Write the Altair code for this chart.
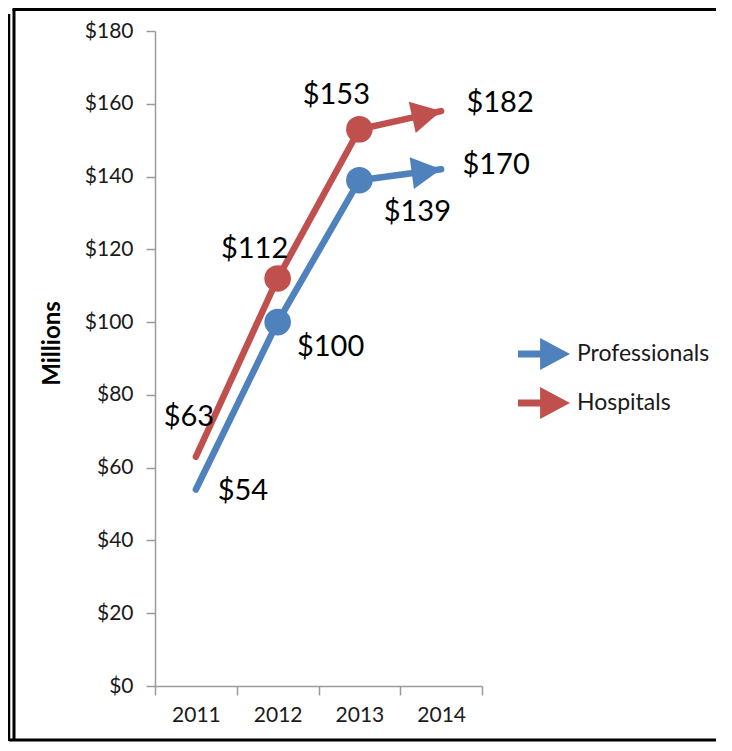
import math
import altair as alt
import pandas as pd

# ---- data ----
years = ["2011", "2012", "2013", "2014"]
series_names = ["Professionals", "Hospitals"]
professionals_drawn = [54, 100, 139, 142]   # plotted positions
hospitals_drawn = [63, 112, 153, 158]
professionals_labels = ["$54", "$100", "$139", "$170"]  # printed data labels
hospitals_labels = ["$63", "$112", "$153", "$182"]
y_ticks = [0, 20, 40, 60, 80, 100, 120, 140, 160, 180]

# ---- styles ----
BLUE = "#4F81BD"
RED = "#C0504D"
SERIES_COLORS = {"Professionals": BLUE, "Hospitals": RED}
AXIS_GREY = "#9A9A9A"
FONT = "Lato"
W, H = 327, 655
PAD = {"left": 147, "top": 23, "right": 242, "bottom": 57}
Y_MAX = 180

rows = []
for name, drawn, labels in [("Professionals", professionals_drawn, professionals_labels),
                            ("Hospitals", hospitals_drawn, hospitals_labels)]:
    band = W / len(years)
    dy = (drawn[3] - drawn[2]) * H / Y_MAX
    ang = (-math.degrees(math.atan2(dy, band))) % 360
    for yr, v, lab in zip(years, drawn, labels):
        rows.append({"year": yr, "series": name, "value": v, "label": lab, "angle": ang})
df = pd.DataFrame(rows)

x_enc = alt.X("year:O", sort=years,
              scale=alt.Scale(type="band", paddingInner=0, paddingOuter=0),
              axis=alt.Axis(title=None, labelAngle=0, tickBand="extent", tickSize=9,
                            labelPadding=9, labelFont=FONT, labelFontSize=21,
                            labelColor="#1a1a1a", domainColor=AXIS_GREY, tickColor=AXIS_GREY,
                            domainWidth=1.5, tickWidth=1.5, grid=False))
y_enc = alt.Y("value:Q", scale=alt.Scale(domain=[0, Y_MAX], nice=False),
              axis=alt.Axis(values=y_ticks, labelExpr="'$' + datum.value", title="Millions",
                            titleFont=FONT, titleFontSize=24, titleFontWeight="bold",
                            titleX=-103, titleY=312, titleAngle=270, titleAlign="center",
                            titleBaseline="middle", tickSize=9, labelPadding=13,
                            labelFont=FONT, labelFontSize=21, labelColor="#1a1a1a",
                            domainColor=AXIS_GREY, tickColor=AXIS_GREY, domainWidth=1.5,
                            tickWidth=1.5, grid=False))
color_scale = alt.Scale(domain=series_names, range=[BLUE, RED])

arrow_head = "M0,0 L-1.85,-1 L-1.85,1 Z"
legend_arrow = ("M-1,-0.135 L-0.15,-0.135 L-0.15,-0.615 L1,0 "
                "L-0.15,0.615 L-0.15,0.135 L-1,0.135 Z")

base = alt.Chart(df)

# decorative double frame of the original picture
frame_data = alt.Data(values=[{"f": 1}])
RIGHT_END = W + PAD["right"] - 8
frame_left = alt.Chart(frame_data).mark_rule(stroke="black", strokeWidth=3).encode(
    x=alt.value(-141), y=alt.value(-22), y2=alt.value(710))
frame_top = alt.Chart(frame_data).mark_rule(stroke="black", strokeWidth=3).encode(
    x=alt.value(-142.5), x2=alt.value(RIGHT_END), y=alt.value(-21.5))
frame_bottom = alt.Chart(frame_data).mark_rule(stroke="black", strokeWidth=3).encode(
    x=alt.value(-146), x2=alt.value(RIGHT_END), y=alt.value(709))
outer = alt.Chart(frame_data).mark_rule(stroke="black", strokeWidth=2.5).encode(
    x=alt.value(-146), y=alt.value(-17), y2=alt.value(710))

line_layers = []
arrow_layers = []
for s in series_names:
    sub = base.transform_filter(alt.datum.series == s)
    line_layers.append(
        sub.mark_line(strokeWidth=6.5, strokeCap="round", color=SERIES_COLORS[s])
        .encode(x=x_enc, y=y_enc))
    arrow_layers.append(
        sub.transform_filter(alt.datum.year == "2014")
        .mark_point(filled=True, shape=arrow_head, size=1024, opacity=1, strokeWidth=0,
                    color=SERIES_COLORS[s])
        .encode(x=x_enc, y=y_enc, angle=alt.Angle("angle:Q", scale=None)))

dots = base.transform_filter(
    alt.FieldOneOfPredicate(field="year", oneOf=["2012", "2013"])
).mark_point(filled=True, shape="circle", size=707, opacity=1, strokeWidth=0).encode(
    x=x_enc, y=y_enc,
    color=alt.Color("series:N", scale=color_scale,
                    legend=alt.Legend(title=None, orient="none", legendX=363, legendY=297,
                                      symbolType=legend_arrow, symbolSize=2704,
                                      symbolStrokeWidth=0, symbolOpacity=1,
                                      labelFont=FONT, labelFontSize=23, labelColor="#1a1a1a",
                                      labelOffset=7, rowPadding=7, padding=0)))

offsets = {
    ("Hospitals", "2011"): (-7, -40),
    ("Professionals", "2011"): (47, 1),
    ("Hospitals", "2012"): (-23, -29),
    ("Professionals", "2012"): (53, 25),
    ("Hospitals", "2013"): (-23, -34),
    ("Professionals", "2013"): (58, 32),
    ("Hospitals", "2014"): (59, -8),
    ("Professionals", "2014"): (55, -4),
}
label_layers = []
for (s, yr), (dx, dy) in offsets.items():
    label_layers.append(
        base.transform_filter((alt.datum.series == s) & (alt.datum.year == yr))
        .mark_text(font=FONT, fontSize=29, color="black", align="center",
                   baseline="middle", dx=dx, dy=dy)
        .encode(x=x_enc, y=y_enc, text="label:N"))

chart = alt.layer(frame_left, frame_top, frame_bottom, outer, *line_layers, dots,
                  *arrow_layers, *label_layers).properties(
    width=W, height=H, padding=PAD, autosize=alt.AutoSizeParams(type="none")
).configure(font=FONT).configure_view(stroke=None)

chart.save("out.html", embed_options={"renderer": "svg", "actions": False})
